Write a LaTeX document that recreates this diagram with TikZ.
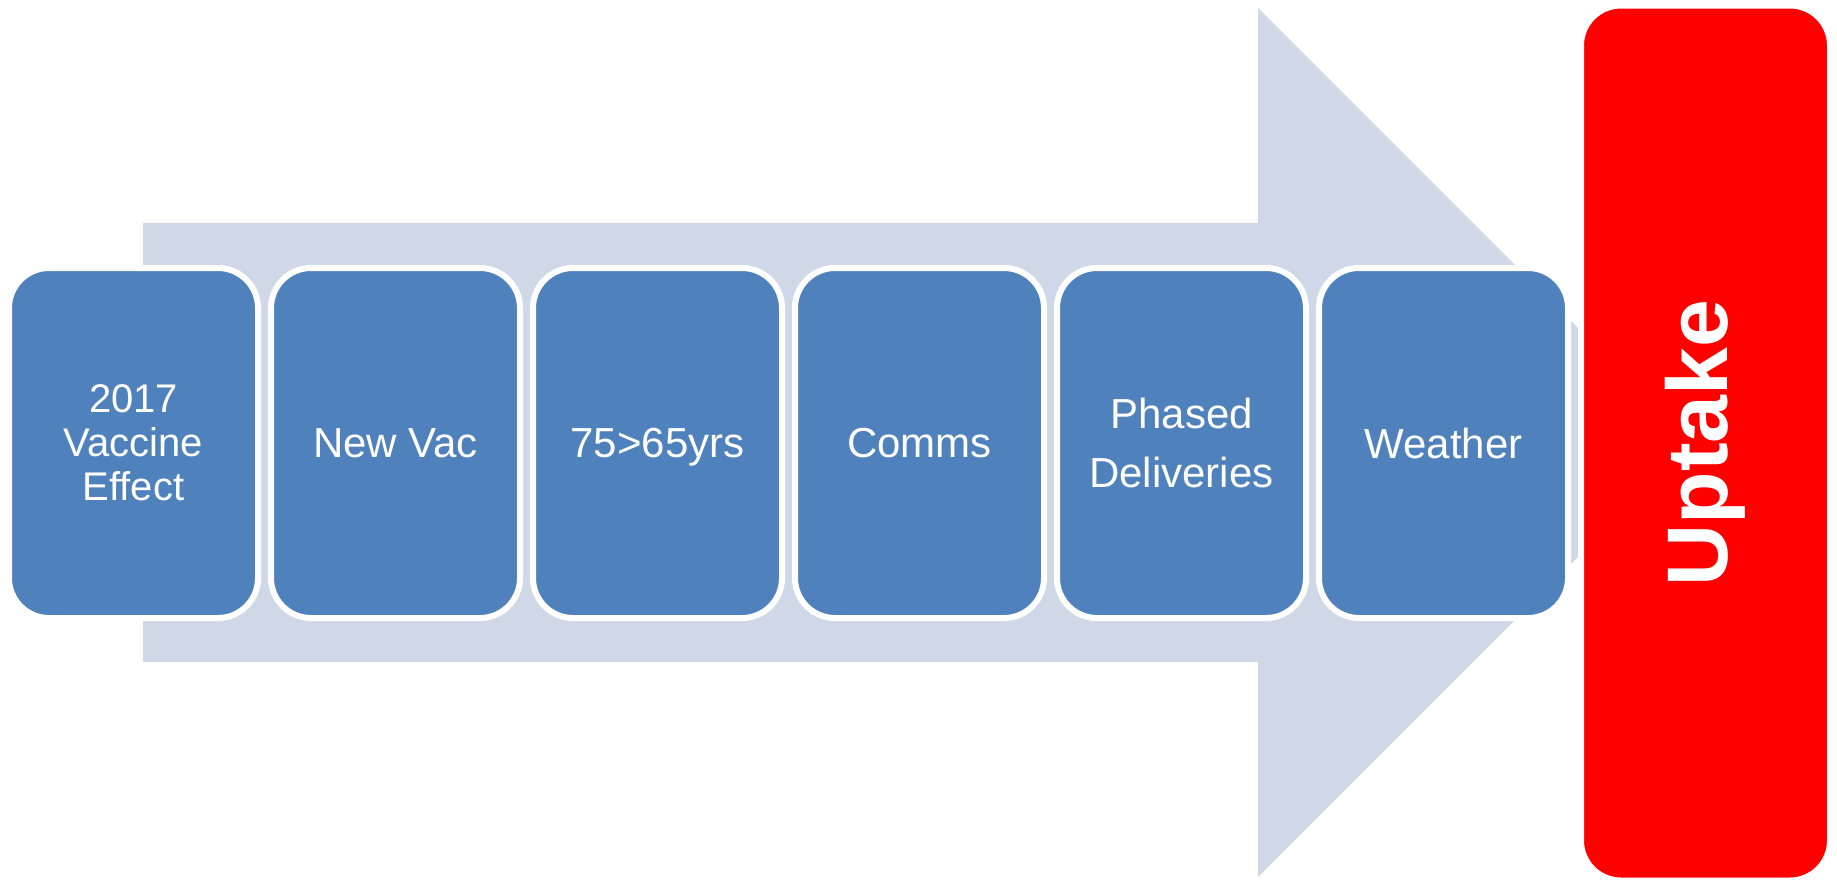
\documentclass[tikz,border=0pt]{standalone}
\usepackage{fontspec}
\setmainfont{Liberation Sans}[Ligatures=NoCommon]
\usetikzlibrary{positioning}
\definecolor{boxblue}{HTML}{4F81BD}
\definecolor{arrowgrey}{HTML}{D0D8E8}
\definecolor{uptakered}{HTML}{FF0000}
\tikzset{factor/.style={draw=white, line width=3pt, fill=boxblue, rounded corners=20pt,
    minimum width=124.5pt, minimum height=175pt, text=white, align=center, text depth=0pt,
    font=\fontsize{21}{25}\selectfont},
uptake/.style={draw=white, line width=3pt, fill=uptakered, rounded corners=20pt,
    minimum width=124.5pt, minimum height=437.5pt, text=white,
    font=\bfseries\fontsize{43}{43}\selectfont}
}

\begin{document}
\begin{tikzpicture}[x=0.5pt, y=-0.5pt, node distance=131pt, on grid]
    \useasboundingbox (0,0) rectangle (1837,880);
    \fill[arrowgrey] (143,223) -- (1258,223) -- (1258,8) -- (1692.5,442.5)
                  -- (1258,877) -- (1258,662) -- (143,662) -- cycle;

    \node[factor,font=\fontsize{20}{22}\selectfont]   (f_1) at (133.5,443)  {2017\\Vaccine\\Effect};
    \node[factor] (f_2) [right=of f_1]  {New Vac};
    \node[factor] (f_3) [right=of f_2]  {75>65yrs};
    \node[factor] (f_4) [right=of f_3]  {Comms};
    \node[factor,font=\fontsize{21}{29.5}\selectfont] (f_5) [right=of f_4]  {Phased\\Deliveries};
    \node[factor] (f_6) [right=of f_5]  {Weather};
    \node[uptake] (u)   [right=of f_6]  {\rotatebox{90}{Uptake}};
\end{tikzpicture}
\end{document}
